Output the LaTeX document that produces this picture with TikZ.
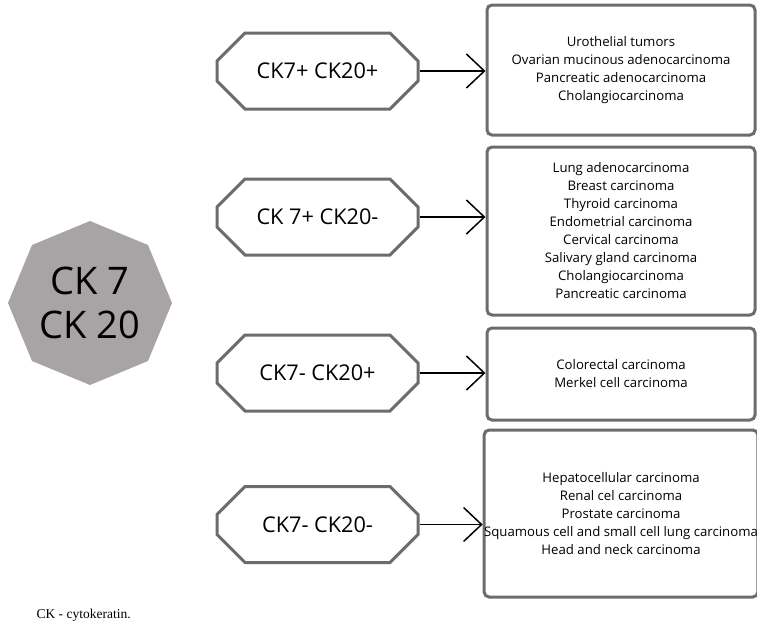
\documentclass[tikz,border=0pt]{standalone}
\usepackage{fontspec}
\setmainfont{Open Sans}
\newfontfamily\notefont{Liberation Serif}
\usetikzlibrary{shapes.geometric,shapes.misc,arrows.meta}
\definecolor{edgegray}{HTML}{6E6B6B}
\definecolor{octfill}{HTML}{A8A3A4}
\tikzset{>={Straight Barb[length=18pt,width=34pt]}}
\tikzset{
  ckoct/.style={regular polygon, regular polygon sides=8, shape border rotate=22.5,
    minimum size=164pt, fill=octfill, inner sep=0pt, align=center,
    font=\fontsize{38}{44}\selectfont},
  ckbox/.style={chamfered rectangle, chamfered rectangle xsep=18pt,
    chamfered rectangle ysep=20pt, draw=edgegray, line width=3pt, fill=white,
    minimum width=201pt, minimum height=76pt, inner sep=0pt,
    font=\fontsize{21.7}{26}\selectfont},
  tumbox/.style={rectangle, rounded corners=5pt, draw=edgegray, line width=3pt,
    minimum width=268pt, align=center, inner sep=0pt,
    font=\fontsize{13.2}{18}\selectfont},
  link/.style={->, line width=1.5pt}
}

\begin{document}
\begin{tikzpicture}[x=1pt,y=-1pt]
  \useasboundingbox (0,0) rectangle (757,625);

  \node[ckoct] (ck) at (90,303) {CK 7\\CK 20};

  \node[ckbox] (pp) at (317.5,71) {CK7+ CK20+};
  \node[ckbox] (pn) at (317.5,217) {CK 7+ CK20-};
  \node[ckbox] (np) at (317.5,373) {CK7- CK20+};
  \node[ckbox] (nn) at (317.5,524.5) {CK7- CK20-};

  \node[tumbox, minimum height=130pt] (tpp) at (621,70)
    {Urothelial tumors\\Ovarian mucinous adenocarcinoma\\Pancreatic adenocarcinoma\\Cholangiocarcinoma};
  \node[tumbox, minimum height=168pt] (tpn) at (621,231)
    {Lung adenocarcinoma\\Breast carcinoma\\Thyroid carcinoma\\Endometrial carcinoma\\Cervical carcinoma\\Salivary gland carcinoma\\Cholangiocarcinoma\\Pancreatic carcinoma};
  \node[tumbox, minimum height=92pt] (tnp) at (621,374)
    {Colorectal carcinoma\\Merkel cell carcinoma};
  \node[tumbox, minimum height=167pt] (tnn) at (621,513.5)
    {Hepatocellular carcinoma\\Renal cel carcinoma\\Prostate carcinoma\\Squamous cell and small cell lung carcinoma\\Head and neck carcinoma};

  \draw[link] (pp.east) -- (pp.east -| tpp.west);
  \draw[link] (pn.east) -- (pn.east -| tpn.west);
  \draw[link] (np.east) -- (np.east -| tnp.west);
  \draw[link] (nn.east) -- (nn.east -| tnn.west);

  \node[anchor=west, font=\notefont\fontsize{13.5}{16}\selectfont] (note) at (33,615) {CK - cytokeratin.};
\end{tikzpicture}
\end{document}
